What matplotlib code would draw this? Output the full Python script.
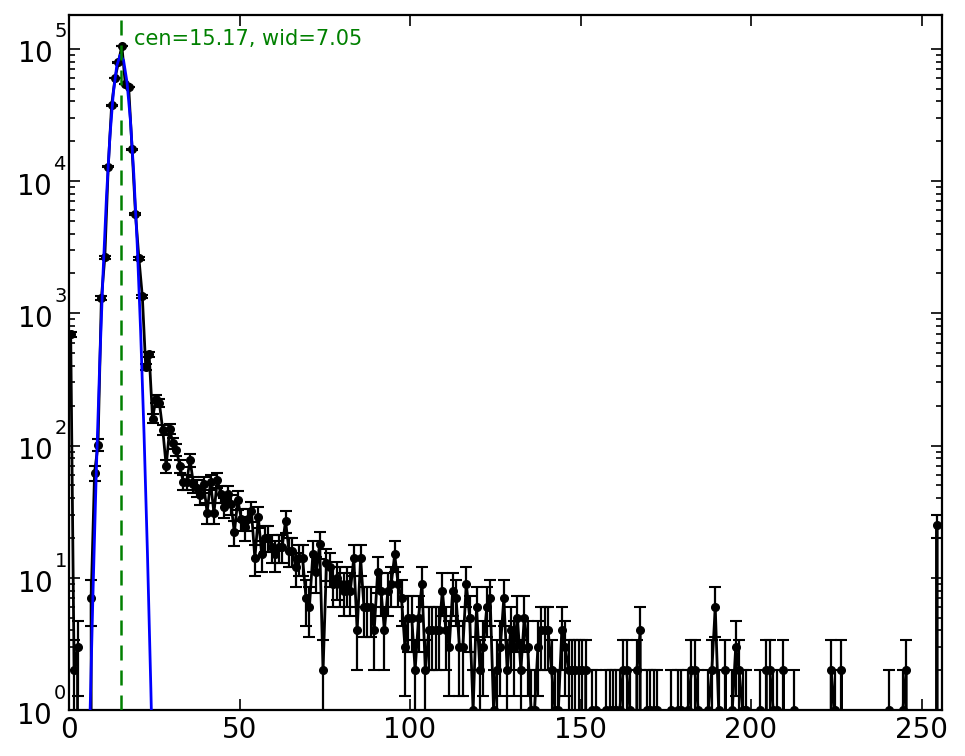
import numpy as np
import matplotlib
matplotlib.use('Agg')
import matplotlib.pyplot as plt
import matplotlib.transforms as mtransforms
from matplotlib import _mathtext
from matplotlib.ticker import LogLocator, NullFormatter, MultipleLocator

###### Data #######
# counts per unit bin, bins 0..255 (plotted at bin centres)
counts = [
    692, 2, 3, 0, 0, 0, 7, 62, 101, 1306, 2642, 12770, 37400, 60000, 78700, 105400,
    54300, 51200, 17380, 5620, 2600, 1345, 392, 489, 160, 226, 209, 131, 70, 133, 104, 93,
    70, 53, 53, 78, 51, 48, 42, 51, 31, 53, 31, 55, 43, 34, 43, 36,
    22, 39, 28, 24, 28, 32, 14, 29, 15, 20, 20, 17, 15, 17, 17, 27,
    16, 16, 12, 14, 14, 7, 6, 15, 11, 18, 2, 13, 12, 9, 10, 9,
    8, 9, 8, 14, 4, 14, 6, 6, 6, 4, 11, 8, 4, 8, 9, 15,
    9, 7, 3, 5, 5, 2, 5, 9, 2, 4, 4, 4, 4, 8, 4, 3,
    8, 7, 3, 3, 9, 5, 1, 6, 2, 3, 6, 7, 1, 2, 3, 7,
    2, 4, 3, 5, 2, 5, 3, 1, 1, 3, 4, 4, 4, 2, 1, 1,
    4, 3, 2, 2, 2, 2, 2, 2, 0, 1, 1, 0, 0, 1, 1, 1,
    1, 1, 2, 2, 1, 0, 2, 4, 0, 1, 1, 1, 1, 0, 0, 0,
    1, 0, 1, 1, 0, 1, 2, 2, 1, 0, 0, 1, 2, 6, 1, 0,
    2, 0, 1, 3, 2, 1, 1, 0, 0, 0, 1, 0, 2, 2, 1, 1,
    0, 2, 0, 0, 1, 0, 0, 0, 0, 0, 0, 0, 0, 0, 0, 2,
    1, 0, 2, 0, 0, 0, 0, 0, 0, 0, 0, 0, 0, 0, 0, 0,
    1, 0, 0, 0, 1, 2, 0, 0, 0, 0, 0, 0, 0, 0, 25, 0,
]
bin_edges = np.arange(257)

# gaussian fit, evaluated at integer x
fit_x = [5, 6, 7, 8, 9, 10, 11, 12, 13, 14, 15, 16, 17, 18, 19, 20, 21, 22, 23, 24, 25, 26]
fit_y = [0.040, 0.62, 7.1, 63, 412, 2050, 7690, 21720, 46230, 74160, 89630, 81650,
         56040, 28990, 11300, 3320, 735, 123, 15.4, 1.46, 0.104, 0.0056]
cen = 15.17
wid = 7.05
######################

# old-style tick labels: exponent sits well above the "10"
for cls in (_mathtext.FontConstantsBase, getattr(_mathtext, 'DejaVuSansFontConstants', None)):
    if cls is not None:
        cls.sup1 = 1.55
        cls.delta = 0.2

counts = np.array(counts, dtype=float)
centers = 0.5 * (bin_edges[:-1] + bin_edges[1:])

fig = plt.figure(figsize=(9.65, 7.56), dpi=100)
ax = fig.add_axes([0.0715, 0.0608, 0.9047, 0.9194])

ax.errorbar(centers, counts, yerr=np.sqrt(counts), fmt='ko-', ms=5.5,
            lw=2, elinewidth=1.6, capsize=4.5, capthick=1.5, zorder=2)
ax.plot(fit_x, fit_y, 'b-', lw=2, zorder=3)
ax.axvline(cen, color='g', ls='--', lw=1.8, dashes=(6, 4), zorder=3)
ax.text(cen + 3.8, 1.07e5, 'cen=%.2f, wid=%.2f' % (cen, wid),
        color='g', fontsize=15, va='baseline')

ax.set_yscale('log')
ax.set_xlim(0, 256)
ax.set_ylim(1, 1.8e5)

ax.xaxis.set_major_locator(MultipleLocator(50))
ax.yaxis.set_major_locator(LogLocator(base=10))
ax.yaxis.set_minor_locator(LogLocator(base=10, subs=np.arange(2, 10)))
ax.yaxis.set_minor_formatter(NullFormatter())

ax.tick_params(which='both', direction='in', top=True, right=True,
               labelsize=20, width=1.2)
ax.tick_params(which='major', length=8)
ax.tick_params(which='minor', length=4)
ax.tick_params(axis='x', pad=4)
ax.tick_params(axis='y', pad=1.5)
for s in ax.spines.values():
    s.set_linewidth(1.6)

# nudge y labels up a little, like the old renderer
fig.canvas.draw()
shift = mtransforms.ScaledTranslation(0, 4 / 100, fig.dpi_scale_trans)
for lab in ax.yaxis.get_majorticklabels():
    lab.set_transform(lab.get_transform() + shift)

fig.savefig('out.png', dpi=100)
